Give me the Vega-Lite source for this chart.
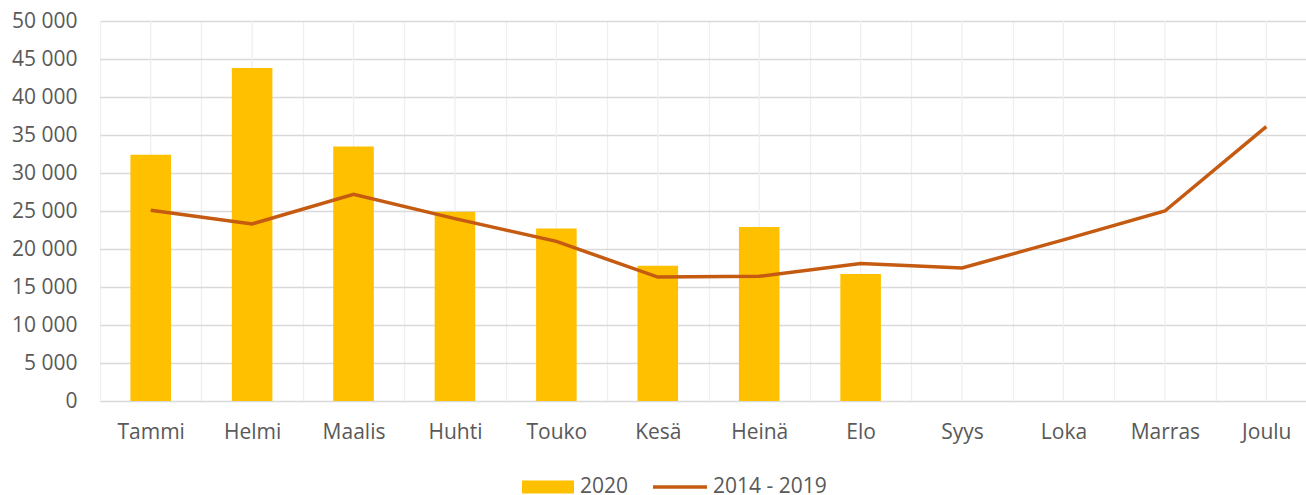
{
  "$schema": "https://vega.github.io/schema/vega-lite/v6.json",
  "autosize": {"type": "none"},
  "padding": {"left": 100, "top": 21, "right": 0, "bottom": 94},
  "width": 1206,
  "height": 380,
  "background": "white",
  "config": {
    "view": {"stroke": null},
    "font": "Open Sans",
    "axis": {"labelFont": "Open Sans", "labelFontSize": 21, "labelColor": "#595959", "ticks": false, "domain": false, "title": null, "labelOverlap": false},
    "legend": {"labelFont": "Open Sans", "labelFontSize": 21, "labelColor": "#595959"}
  },
  "data": {
    "values": [
      {"month": "Tammi", "v2020": 32400, "avg": 25100},
      {"month": "Helmi", "v2020": 43800, "avg": 23300},
      {"month": "Maalis", "v2020": 33500, "avg": 27200},
      {"month": "Huhti", "v2020": 24900, "avg": 24000},
      {"month": "Touko", "v2020": 22700, "avg": 21000},
      {"month": "Kesä", "v2020": 17800, "avg": 16300},
      {"month": "Heinä", "v2020": 22900, "avg": 16400},
      {"month": "Elo", "v2020": 16700, "avg": 18100},
      {"month": "Syys", "v2020": null, "avg": 17500},
      {"month": "Loka", "v2020": null, "avg": 21200},
      {"month": "Marras", "v2020": null, "avg": 25000},
      {"month": "Joulu", "v2020": null, "avg": 36100}
    ]
  },
  "encoding": {
    "x": {
      "field": "month", "type": "nominal", "sort": null,
      "scale": {"range": [0, 1217], "paddingInner": 0, "paddingOuter": 0},
      "axis": {"labelAngle": 0, "tickBand": "extent", "grid": true, "gridColor": "#efefef", "gridWidth": 1.3, "labelPadding": 20}
    }
  },
  "layer": [
    {
      "mark": {"type": "rule", "color": "#efefef", "strokeWidth": 1.3},
      "encoding": {}
    },
    {
      "mark": {"type": "bar", "width": {"band": 0.4}},
      "encoding": {
        "y": {
          "field": "v2020", "type": "quantitative",
          "scale": {"domain": [0, 50000], "nice": false},
          "axis": {"values": [0, 5000, 10000, 15000, 20000, 25000, 30000, 35000, 40000, 45000, 50000], "tickCount": 11, "grid": true, "gridColor": "#d9d9d9", "gridWidth": 1.3, "labelPadding": 23, "labelExpr": "replace(format(datum.value, ','), ',', ' ')"}
        },
        "color": {
          "datum": "2020",
          "scale": {"range": ["#FFC000"]},
          "legend": {"title": null, "orient": "none", "legendX": 422, "legendY": 451, "clipHeight": 30, "symbolType": "M-1,-0.25L1,-0.25L1,0.25L-1,0.25Z", "symbolSize": 2704, "symbolStrokeWidth": 0, "labelOffset": 6}
        }
      }
    },
    {
      "mark": {"type": "line", "strokeWidth": 3.5},
      "encoding": {
        "y": {
          "field": "avg", "type": "quantitative",
          "scale": {"domain": [0, 50000], "nice": false},
          "axis": {"values": [0, 5000, 10000, 15000, 20000, 25000, 30000, 35000, 40000, 45000, 50000], "tickCount": 11, "grid": true, "gridColor": "#d9d9d9", "gridWidth": 1.3, "labelPadding": 23, "labelExpr": "replace(format(datum.value, ','), ',', ' ')"}
        },
        "stroke": {
          "datum": "2014 - 2019",
          "scale": {"range": ["#C55A11"]},
          "legend": {"title": null, "orient": "none", "legendX": 551, "legendY": 451, "clipHeight": 30, "symbolType": "stroke", "symbolSize": 2916, "symbolStrokeWidth": 3.5, "labelOffset": 4}
        }
      }
    }
  ]
}
